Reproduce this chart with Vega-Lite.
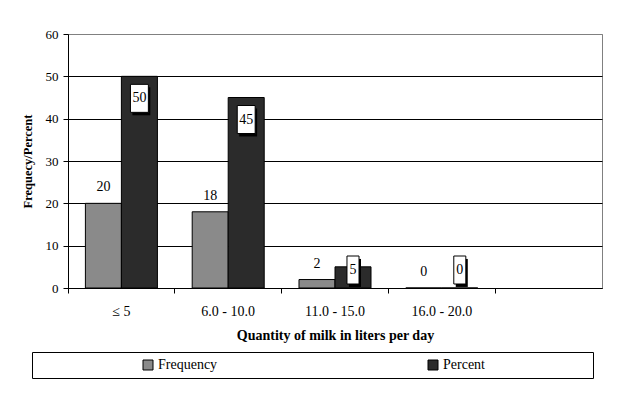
{
  "$schema": "https://vega.github.io/schema/vega-lite/v6.json",
  "autosize": "none",
  "width": 534,
  "height": 254,
  "padding": {"left": 68, "top": 34, "right": 24, "bottom": 107},
  "background": "white",
  "config": {
    "font": "Liberation Serif",
    "view": {"stroke": "#808080", "strokeWidth": 1},
    "axis": {
      "labelFont": "Liberation Serif",
      "titleFont": "Liberation Serif",
      "labelColor": "black",
      "titleColor": "black",
      "domainColor": "black",
      "tickColor": "black",
      "domainWidth": 1,
      "tickWidth": 1
    },
    "text": {"font": "Liberation Serif"}
  },
  "data": {
    "values": [
      {"range": "≤ 5", "series": "Frequency", "value": 20},
      {"range": "≤ 5", "series": "Percent", "value": 50},
      {"range": "6.0 - 10.0", "series": "Frequency", "value": 18},
      {"range": "6.0 - 10.0", "series": "Percent", "value": 45},
      {"range": "11.0 - 15.0", "series": "Frequency", "value": 2},
      {"range": "11.0 - 15.0", "series": "Percent", "value": 5},
      {"range": "16.0 - 20.0", "series": "Frequency", "value": 0},
      {"range": "16.0 - 20.0", "series": "Percent", "value": 0}
    ]
  },
  "layer": [
    {
      "mark": {"type": "bar", "stroke": "black", "strokeWidth": 1},
      "encoding": {
        "x": {
          "field": "range", "type": "nominal",
          "scale": {"domain": ["≤ 5", "6.0 - 10.0", "11.0 - 15.0", "16.0 - 20.0", " "], "paddingInner": 0, "paddingOuter": 0},
          "axis": {"title": "Quantity of milk in liters per day", "labelAngle": 0, "bandPosition": 0, "tickSize": 5, "labelFontSize": 14, "labelPadding": 11, "titleFontSize": 14, "titleFontWeight": "bold", "titlePadding": 10, "grid": false}
        },
        "xOffset": {"field": "series", "type": "nominal", "scale": {"paddingOuter": 0.483, "paddingInner": 0}},
        "y": {
          "field": "value", "type": "quantitative",
          "scale": {"domain": [0, 60], "nice": false},
          "title": "Frequecy/Percent",
          "axis": {"values": [0, 10, 20, 30, 40, 50, 60], "tickSize": 5, "labelFontSize": 13, "labelPadding": 5, "titleFontSize": 12.5, "titleFontWeight": "bold", "titlePadding": 11, "grid": true, "gridColor": {"condition": {"test": "datum.value === 60", "value": "#808080"}, "value": "black"}, "gridOpacity": 1}
        },
        "color": {
          "field": "series", "type": "nominal",
          "scale": {"domain": ["Frequency", "Percent"], "range": ["#8a8a8a", "#2b2b2b"]},
          "legend": {
            "orient": "none", "legendX": -36, "legendY": 318, "direction": "horizontal",
            "title": ".", "titleOrient": "right", "titleColor": "white", "titleFontSize": 10, "titlePadding": 99,
            "strokeColor": "black", "fillColor": "white", "padding": 6,
            "symbolType": "square", "symbolSize": 100, "symbolStrokeColor": "black", "symbolStrokeWidth": 1,
            "symbolOffset": 103, "labelOffset": 3, "columnPadding": 105,
            "labelFont": "Liberation Serif", "labelFontSize": 14, "labelColor": "black", "labelLimit": 400
          }
        }
      }
    },
    {
      "transform": [{"filter": "datum.series === 'Frequency'"}],
      "mark": {"type": "text", "dy": -16, "fontSize": 14, "color": "black", "baseline": "middle"},
      "encoding": {
        "x": {"field": "range", "type": "nominal"},
        "xOffset": {"field": "series", "type": "nominal"},
        "y": {"field": "value", "type": "quantitative", "title": "Frequecy/Percent"},
        "text": {"field": "value", "type": "quantitative"}
      }
    },
    {
      "transform": [{"filter": "datum.series === 'Percent'"}, {"calculate": "max(datum.value - 5.2, 4.25)", "as": "labelY"}],
      "mark": {"type": "point", "filled": true, "fill": "black", "strokeWidth": 0, "opacity": 1, "size": 784},
      "encoding": {
        "x": {"field": "range", "type": "nominal"},
        "xOffset": {"field": "series", "type": "nominal"},
        "y": {"field": "labelY", "type": "quantitative", "title": "Frequecy/Percent"},
        "shape": {"condition": {"test": "datum.value >= 10", "value": "M-0.5,-0.79L0.78,-0.79L0.78,1.21L-0.5,1.21Z"}, "value": "M-0.29,-0.79L0.57,-0.79L0.57,1.21L-0.29,1.21Z"}
      }
    },
    {
      "transform": [{"filter": "datum.series === 'Percent'"}, {"calculate": "max(datum.value - 5.2, 4.25)", "as": "labelY"}],
      "mark": {"type": "point", "filled": true, "fill": "white", "stroke": "black", "strokeWidth": 1, "opacity": 1, "size": 784},
      "encoding": {
        "x": {"field": "range", "type": "nominal"},
        "xOffset": {"field": "series", "type": "nominal"},
        "y": {"field": "labelY", "type": "quantitative", "title": "Frequecy/Percent"},
        "shape": {"condition": {"test": "datum.value >= 10", "value": "M-0.64,-1L0.64,-1L0.64,1L-0.64,1Z"}, "value": "M-0.43,-1L0.43,-1L0.43,1L-0.43,1Z"}
      }
    },
    {
      "transform": [{"filter": "datum.series === 'Percent'"}, {"calculate": "max(datum.value - 5.2, 4.25)", "as": "labelY"}],
      "mark": {"type": "text", "fontSize": 14, "color": "black", "baseline": "middle"},
      "encoding": {
        "x": {"field": "range", "type": "nominal"},
        "xOffset": {"field": "series", "type": "nominal"},
        "y": {"field": "labelY", "type": "quantitative", "title": "Frequecy/Percent"},
        "text": {"field": "value", "type": "quantitative"}
      }
    }
  ]
}
